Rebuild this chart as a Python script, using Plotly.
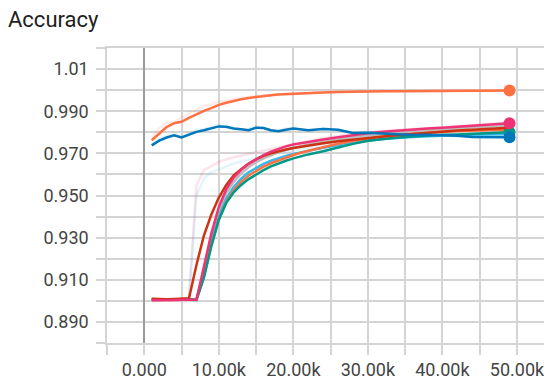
import plotly.graph_objects as go

steps = [1000, 2000, 3000, 4000, 5000, 6000, 7000, 8000, 9000, 10000,
         11000, 12000, 13000, 14000, 15000, 16000, 17000, 18000, 19000, 20000,
         22000, 24000, 26000, 28000, 30000, 32000, 34000, 36000, 38000, 40000,
         42000, 44000, 46000, 48000, 49000]

orange_top = [.9762, .9795, .9825, .9843, .9850, .9868, .9885, .9902, .9915, .9930,
              .9940, .9950, .9957, .9963, .9968, .9972, .9976, .9979, .9981, .9983,
              .9986, .9989, .9991, .9993, .9994, .9995, .9995, .9996, .9996, .9996,
              .9997, .9997, .9997, .9998, .9998]
blue_top = [.9738, .9760, .9775, .9786, .9776, .9790, .9802, .9810, .9818, .9828,
            .9826, .9818, .9814, .9810, .9822, .9820, .9810, .9805, .9812, .9818,
            .9810, .9816, .9812, .9797, .9798, .9795, .9790, .9787, .9788, .9786,
            .9783, .9778, .9777, .9777, .9776]
red = [.9010, .9008, .9008, .9009, .9010, .9012, .9170, .9310, .9410, .9490,
       .9550, .9595, .9625, .9652, .9672, .9688, .9700, .9710, .9718, .9725,
       .9738, .9748, .9758, .9766, .9773, .9780, .9786, .9792, .9798, .9803,
       .9808, .9812, .9816, .9820, .9821]
pink = [.9003, .9004, .9003, .9004, .9005, .9005, .9005, .9160, .9320, .9445,
        .9530, .9585, .9622, .9650, .9672, .9692, .9708, .9722, .9733, .9742,
        .9755, .9766, .9776, .9786, .9795, .9802, .9808, .9813, .9818, .9822,
        .9826, .9830, .9834, .9840, .9843]
gray = [.9004, .9005, .9004, .9005, .9006, .9005, .9006, .9140, .9300, .9420,
        .9510, .9565, .9605, .9635, .9658, .9676, .9692, .9705, .9716, .9726,
        .9742, .9755, .9766, .9776, .9785, .9793, .9800, .9806, .9811, .9816,
        .9820, .9823, .9826, .9829, .9830]
cyan = [.9008, .9007, .9006, .9007, .9008, .9007, .9007, .9130, .9280, .9400,
        .9485, .9540, .9580, .9610, .9632, .9650, .9665, .9678, .9688, .9697,
        .9712, .9726, .9738, .9750, .9760, .9768, .9774, .9778, .9781, .9784,
        .9786, .9788, .9789, .9790, .9791]
orange_low = [.9005, .9004, .9005, .9004, .9005, .9004, .9005, .9115, .9265, .9385,
              .9470, .9525, .9565, .9595, .9618, .9637, .9653, .9667, .9680, .9692,
              .9712, .9730, .9746, .9760, .9771, .9780, .9788, .9794, .9799, .9803,
              .9806, .9808, .9810, .9811, .9812]
teal = [.9006, .9005, .9006, .9005, .9006, .9005, .9004, .9110, .9260, .9385,
        .9465, .9515, .9550, .9578, .9600, .9620, .9638, .9652, .9665, .9676,
        .9695, .9710, .9728, .9745, .9760, .9768, .9775, .9780, .9785, .9788,
        .9790, .9793, .9796, .9798, .9800]

raw_orange_top = [.9775, .9820, .9845, .9850, .9870, .9890, .9905, .9925, .9932, .9948,
                  .9950, .9958, .9962, .9968, .9972, .9975, .9979, .9981, .9983, .9985,
                  .9988, .9990, .9992, .9994, .9995, .9995, .9996, .9996, .9997, .9997,
                  .9997, .9998, .9998, .9998, .9998]
raw_blue_top = [.9745, .9770, .9782, .9795, .9780, .9798, .9812, .9815, .9825, .9835,
                .9822, .9815, .9812, .9815, .9830, .9818, .9805, .9808, .9818, .9822,
                .9806, .9820, .9810, .9790, .9802, .9792, .9788, .9785, .9790, .9784,
                .9780, .9776, .9778, .9775, .9776]
raw_pink = [.9003, .9004, .9003, .9004, .9005, .9010, .9550, .9620, .9640, .9660,
            .9672, .9682, .9690, .9698, .9705, .9712, .9720, .9728, .9736, .9745,
            .9760, .9772, .9782, .9792, .9800, .9806, .9811, .9816, .9821, .9825,
            .9829, .9833, .9838, .9845, .9846]
raw_cyan = [.9010, .9006, .9008, .9006, .9009, .9015, .9500, .9580, .9610, .9625,
            .9640, .9652, .9662, .9671, .9680, .9688, .9695, .9702, .9708, .9714,
            .9726, .9738, .9750, .9762, .9768, .9775, .9778, .9780, .9784, .9786,
            .9788, .9789, .9790, .9791, .9792]

x_ticks = [0, 10000, 20000, 30000, 40000, 50000]
x_labels = ["0.000", "10.00k", "20.00k", "30.00k", "40.00k", "50.00k"]
y_ticks = [0.89, 0.91, 0.93, 0.95, 0.97, 0.99, 1.01]
y_labels = ["0.890", "0.910", "0.930", "0.950", "0.970", "0.990", "1.01"]

fig = go.Figure()

faint = [(raw_pink, "#ee3377"), (raw_cyan, "#33bbee"),
         (raw_orange_top, "#ff7043"), (raw_blue_top, "#33bbee")]
for vals, col in faint:
    fig.add_trace(go.Scatter(x=steps, y=vals, mode="lines",
                             line=dict(color=col, width=2.5), opacity=0.13,
                             hoverinfo="skip", showlegend=False))

main = [(gray, "#bbbbbb", False), (cyan, "#33bbee", False),
        (orange_low, "#ff7043", False), (teal, "#009988", True),
        (red, "#cc3311", False), (pink, "#ee3377", True),
        (orange_top, "#ff7043", True), (blue_top, "#0077bb", True)]
for vals, col, dot in main:
    fig.add_trace(go.Scatter(x=steps, y=vals, mode="lines",
                             line=dict(color=col, width=2.5),
                             showlegend=False))
    if dot:
        fig.add_trace(go.Scatter(x=[steps[-1]], y=[vals[-1]], mode="markers",
                                 marker=dict(color=col, size=12),
                                 showlegend=False))

grid = "#d4d4d4"
# the page body adds an 8px offset, so the figure is 8px smaller and shifted
fig.update_layout(
    width=544, height=372,
    margin=dict(l=99, r=0, t=40, b=37, autoexpand=False),
    paper_bgcolor="white", plot_bgcolor="white",
    font=dict(family="Roboto, Arial, sans-serif", color="#444"),
    title=dict(text="Accuracy", x=0, xanchor="left", xref="container",
               y=1, yanchor="top", yref="container", automargin=False,
               pad=dict(t=4, l=0),
               font=dict(size=22, color="#212121")),
    xaxis=dict(range=[-5000, 54700], tickvals=x_ticks, ticktext=x_labels,
               automargin=False,
               showgrid=True, gridcolor=grid, gridwidth=1.5,
               ticks="outside", ticklen=10, tickcolor=grid, tickwidth=1.5,
               minor=dict(dtick=5000, tick0=0, showgrid=True, gridcolor=grid,
                          gridwidth=1.5, ticks="outside", ticklen=10,
                          tickcolor=grid, tickwidth=1.5),
               zeroline=True, zerolinecolor="#9a9a9a", zerolinewidth=1.5,
               showline=True, linecolor=grid, linewidth=1.5, mirror=True,
               tickfont=dict(size=18, color="#444")),
    yaxis=dict(range=[0.88, 1.02], tickvals=y_ticks, ticktext=y_labels,
               automargin=False,
               showgrid=True, gridcolor=grid, gridwidth=1.5,
               ticks="outside", ticklen=9, tickcolor=grid, tickwidth=1.5,
               minor=dict(dtick=0.01, tick0=0.88, showgrid=True, gridcolor=grid,
                          gridwidth=1.5, ticks="outside", ticklen=9,
                          tickcolor=grid, tickwidth=1.5),
               zeroline=False, showline=True, linecolor=grid, linewidth=1.5,
               tickfont=dict(size=18, color="#444"), ticklabelstandoff=4),
)

fig.write_html("out.html")
